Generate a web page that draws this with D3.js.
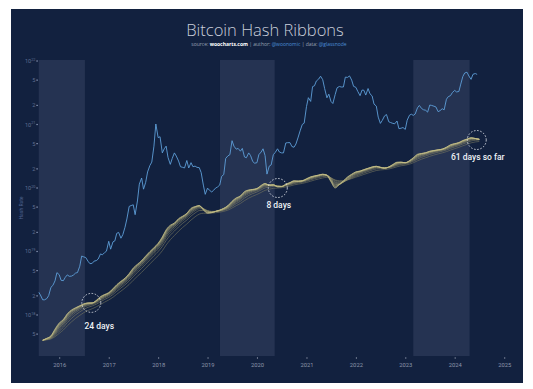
<!DOCTYPE html>
<html><head><meta charset="utf-8">
<script src="https://cdn.jsdelivr.net/npm/d3@7"></script>
<style>html,body{margin:0;padding:0;background:#fff;} svg{display:block;}</style>
</head><body><svg id="c" width="533" height="389"></svg>
<script>
// ---- DATA ----
// Monthly network hash rate (EH/s), mid-month, Aug 2015 .. Jun 2024
const hashStart = "2015-08-15";
const hashRateEH = [
  0.40,0.43,0.47,0.60,0.75,
  0.85,1.05,1.20,1.30,1.40,1.50,1.55,1.55,1.70,1.95,2.10,2.25,
  2.60,3.00,3.40,3.80,4.50,5.50,6.30,7.20,8.50,10.0,11.5,13.5,
  17.0,22.0,26.0,28.0,33.0,36.0,40.0,48.0,51.0,53.0,45.0,40.0,
  41.0,43.0,45.0,48.0,53.0,62.0,70.0,75.0,88.0,93.0,95.0,98.0,
  110,118,110,112,104,105,115,122,130,128,130,140,
  150,155,160,165,158,125,100,115,130,150,165,180,
  185,195,205,215,220,210,205,215,235,255,255,250,
  270,300,340,350,360,380,390,400,410,440,480,500,
  520,560,590,620,600,580
];
// BTC price (USD), 1st and 15th of each month, Aug 2015 .. Jun 2024
const priceStart = "2015-08-01";
const priceUSD = [
  280,260,230,230,237,255,315,330,370,455,
  432,375,372,405,430,415,417,428,450,456,535,690,675,665,605,570,575,608,615,640,728,712,752,780,
  1000,820,985,1010,1220,1250,1080,1180,1420,1750,2400,2450,2500,1950,2750,4200,4900,3700,4400,5700,6700,7300,10900,19000,
  13500,13800,9200,10200,10900,8200,6900,8000,9200,8500,7500,6500,6400,6300,7600,6300,7200,6500,6600,6400,6350,5600,4100,3250,
  3800,3600,3450,3600,3800,3900,4100,5100,5350,8000,8550,8800,12500,10900,10100,10300,9600,10300,8300,8150,9200,8600,7400,7100,
  7200,8800,9400,10200,8600,5400,6600,6800,8800,9300,10200,9400,9200,9200,11800,11900,11900,10800,10600,11500,13700,16000,18800,19400,
  29400,36800,33500,48600,49600,56000,58700,63100,57800,46400,36700,40200,33500,31800,39900,47100,48800,48100,48200,61600,61300,63600,57200,48900,
  47700,43100,38700,44500,44400,39300,46300,40600,38500,31300,29800,22600,19300,20800,23300,24100,20100,19700,19300,19100,20500,16900,17100,17400,
  16600,20900,23700,24300,23600,24400,28500,30300,28100,27200,26800,25600,30600,30300,29700,29200,25900,26600,27900,27100,35400,37800,38700,41900,
  44200,42500,43000,51800,62500,68400,69700,63400,58300,66200,67500,66000
];
// Shaded periods before each halving
const shadeStart = ["2015-06-01","2019-04-03","2023-03-01"];
const shadeEnd   = ["2016-07-09","2020-05-11","2024-04-20"];
// Capitulation annotations
const annDates  = ["2016-08-25","2020-06-03","2024-06-12"];
const annHashEH = [1.55, 100, 570];
const annLabels = ["24 days","8 days","61 days so far"];
const yearTicks = [2016,2017,2018,2019,2020,2021,2022,2023,2024,2025];
const decades = [18,19,20,21,22];
const minorMult = [2,5];

// ---- SETUP ----
const parse = d3.utcParse("%Y-%m-%d");
const svg = d3.select("#c");
svg.append("rect").attr("x",11).attr("y",9).attr("width",512).attr("height",374).attr("fill","#12213f");

const plotTop = 60, plotBottom = 356;
const x = d3.scaleUtc().domain([parse("2015-08-01"), parse("2025-04-01")]).range([38.5, 516.4]);
const y = d3.scaleLog().domain([Math.pow(10,17.354), Math.pow(10,22.016)]).range([plotBottom, plotTop]);
const yPrice = d3.scaleLog().domain([56.1, 94800]).range([plotBottom, plotTop]);

const hashDates = d3.utcMonth.range(parse(hashStart), d3.utcMonth.offset(parse(hashStart), hashRateEH.length));
const priceDates = [];
{
  let m = parse(priceStart);
  while (priceDates.length < priceUSD.length) {
    priceDates.push(m);
    priceDates.push(d3.utcDay.offset(m,14));
    m = d3.utcMonth.offset(m,1);
  }
  priceDates.length = priceUSD.length;
}

svg.append("clipPath").attr("id","plot").append("rect")
  .attr("x",x.range()[0]).attr("y",plotTop).attr("width",x.range()[1]-x.range()[0]).attr("height",plotBottom-plotTop);

const g = svg.append("g").attr("clip-path","url(#plot)");
shadeStart.forEach((s,i)=>{
  const x0 = Math.max(x(parse(s)), x.range()[0]);
  const x1 = x(parse(shadeEnd[i]));
  g.append("rect").attr("x",x0).attr("y",plotTop).attr("width",x1-x0).attr("height",plotBottom-plotTop).attr("fill","#253352");
});

// ribbons: exponential moving averages of the hash rate
const nR = 10;
const alphas = d3.range(nR).map(i => 1 - i*(0.8/(nR-1)));
const ribbonColor = d3.interpolateRgb("#d2cb8e","#77775f");
const line = d3.line().x(d=>x(d[0])).y(d=>y(d[1]*1e18)).curve(d3.curveMonotoneX);
d3.range(nR).reverse().forEach(i=>{
  const a = alphas[i];
  let ema = hashRateEH[0];
  const pts = hashRateEH.map((v,k)=>{ ema = k===0 ? v : a*v + (1-a)*ema; return [hashDates[k], ema]; });
  g.append("path").attr("d", line(pts)).attr("fill","none")
    .attr("stroke", ribbonColor((i%2===0? i : Math.min(nR-1,i+2))/(nR-1))).attr("stroke-width",0.6);
});

// price line
const pline = d3.line().x((d,i)=>x(priceDates[i])).y(d=>yPrice(d));
g.append("path").attr("d", pline(priceUSD)).attr("fill","none").attr("stroke","#5f9fd9").attr("stroke-width",0.9);

// annotations
annDates.forEach((d,i)=>{
  const cx = x(parse(d)), cy = y(annHashEH[i]*1e18);
  svg.append("circle").attr("cx",cx).attr("cy",cy).attr("r",9.5).attr("fill","none")
    .attr("stroke","#e8ecf2").attr("stroke-width",0.8).attr("stroke-dasharray","1.6,1.6");
  svg.append("text").attr("x",cx+ (i===0?8:1)).attr("y",cy+ (i===0?26:19.5)).attr("text-anchor","middle")
    .attr("font-family","Roboto, 'Open Sans', sans-serif").attr("font-weight",500).attr("font-size",8.5)
    .attr("fill","#eef1f5").text(annLabels[i]);
});

// x axis
const xa = svg.append("g").attr("transform",`translate(0,${plotBottom+1})`)
  .call(d3.axisBottom(x).tickValues(yearTicks.map(yy=>new Date(Date.UTC(yy,0,1)))).tickSize(2).tickFormat(d3.utcFormat("%Y")));
xa.select(".domain").remove();
xa.selectAll("line").attr("stroke","#7d879c").attr("stroke-width",0.8);
xa.selectAll("text").attr("fill","#8d96aa").attr("font-size",5.8).attr("font-family","Roboto, sans-serif").attr("dy","0.9em");

// y axis
const yTicks = [];
decades.forEach(dd=>{ yTicks.push({v:Math.pow(10,dd), major:true, e:dd}); minorMult.forEach(m=>yTicks.push({v:m*Math.pow(10,dd-1), major:false, m:m})); });
const yt = yTicks.filter(t=>y(t.v)>=plotTop-1 && y(t.v)<=plotBottom);
const ya = svg.append("g");
yt.forEach(t=>{
  const yy = y(t.v);
  ya.append("rect").attr("x",36.3).attr("y",yy-0.6).attr("width",1.6).attr("height",1.2).attr("fill","#7d8aa8");
  const tx = ya.append("text").attr("x",35.5).attr("y",yy+2).attr("text-anchor","end")
    .attr("font-family","Roboto, sans-serif").attr("font-size",5.6).attr("fill","#5f6e90");
  if (t.major) { tx.append("tspan").text("10"); tx.append("tspan").attr("font-size",3.8).attr("dy",-2.4).text(t.e); }
  else tx.text(t.m);
});
svg.append("text").attr("transform","translate(23,208) rotate(-90)").attr("text-anchor","middle")
  .attr("font-family","Roboto, sans-serif").attr("font-size",5).attr("fill","#4f6290").text("Hash Rate");

// title
svg.append("text").attr("x",265).attr("y",35.5).attr("text-anchor","middle")
  .attr("font-family","'Open Sans', sans-serif").attr("font-weight",300).attr("font-size",16.5).attr("fill","#c9ceda")
  .text("Bitcoin Hash Ribbons");
const sub = svg.append("text").attr("x",269).attr("y",46).attr("text-anchor","middle")
  .attr("font-family","'Open Sans', sans-serif").attr("font-size",5).attr("fill","#9aa3b5");
sub.append("tspan").text("source: ");
sub.append("tspan").attr("fill","#ffffff").attr("font-weight",700).text("woocharts.com");
sub.append("tspan").text(" | author: ");
sub.append("tspan").attr("fill","#4d8fd8").text("@woonomic");
sub.append("tspan").text(" | data: ");
sub.append("tspan").attr("fill","#4d8fd8").text("@glassnode");
</script></body></html>
